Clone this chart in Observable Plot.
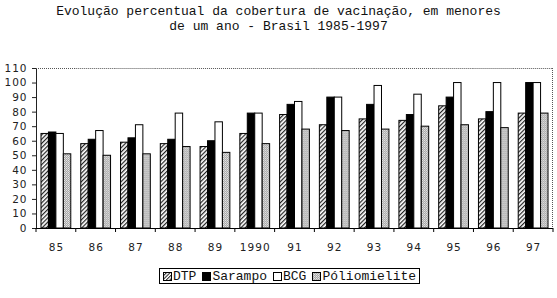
<!DOCTYPE html>
<html>
<head>
<meta charset="utf-8">
<script src="https://cdn.jsdelivr.net/npm/d3@7"></script>
<script src="https://cdn.jsdelivr.net/npm/@observablehq/plot@0.6"></script>
<style>
  body { margin: 0; background: #fff; width: 557px; }
  .mono { font-family: "Liberation Mono", "Courier New", Courier, "DejaVu Sans Mono", "Noto Sans Mono", monospace; }
  #title { font-size: 13px; line-height: 15px; color: #111;
           text-align: center; height: 40px; padding-top: 4px; box-sizing: border-box; white-space: pre; }
  #chart svg text { letter-spacing: 1px; }
  #legend { position: absolute; left: 159px; top: 268px; height: 16px; border: 1px solid #000; box-sizing: border-box;
            display: flex; align-items: center; padding: 0 3px; font-size: 13px; color: #111; }
  #legend .item { display: flex; align-items: center; margin-right: 6px; }
  #legend .item:last-child { margin-right: 0; }
  #legend svg { margin-right: 1px; }
</style>
</head>
<body>
<div id="title" class="mono">Evolução percentual da cobertura de vacinação, em menores
de um ano - Brasil 1985-1997</div>
<div id="chart"></div>
<div id="legend" class="mono"></div>
<script>
const years = ["85","86","87","88","89","1990","91","92","93","94","95","96","97"];
const series = ["DTP","Sarampo","BCG","Póliomielite"];
const dtp      = [65, 58, 59, 58, 56, 65, 78, 71, 75, 74, 84, 75, 79];
const sarampo  = [66, 61, 62, 61, 60, 79, 85, 90, 85, 78, 90, 80, 100];
const bcg      = [65, 67, 71, 79, 73, 79, 87, 90, 98, 92, 100, 100, 100];
const polio    = [51, 50, 51, 56, 52, 58, 68, 67, 68, 70, 71, 69, 79];
const yTicks = [0,10,20,30,40,50,60,70,80,90,100,110];

const valuesBySeries = [dtp, sarampo, bcg, polio];
const data = [];
years.forEach((yr, i) => series.forEach((s, j) => data.push({year: yr, series: s, value: valuesBySeries[j][i]})));

const fills = ["url(#p-dtp)", "#000", "#fff", "url(#p-polio)"];

const chart = Plot.plot({
  width: 557,
  height: 216,
  marginTop: 28,
  marginBottom: 28,
  marginLeft: 36,
  marginRight: 4,
  style: {fontFamily: "DejaVu Sans, sans-serif", fontSize: "10.5px", color: "#222", background: "white", overflow: "visible"},
  fx: {domain: years, padding: 0, round: false, label: null, tickSize: 0, tickPadding: 15},
  x: {domain: series, axis: null, round: false, paddingInner: 0, paddingOuter: 0.67},
  y: {domain: [0, 110], ticks: yTicks, tickSize: 4, tickPadding: 5, label: null, line: true},
  color: {domain: series, range: fills},
  marks: [
    Plot.ruleY([110], {stroke: "#555", strokeDasharray: "1,1"}),
    Plot.barY(data, {fx: "year", x: "series", y: "value", fill: "series", stroke: "#000", strokeWidth: 1}),
    Plot.ruleY([0], {stroke: "#000", strokeWidth: 1.2})
  ]
});

const svg = d3.select(chart);
const defs = svg.insert("defs", ":first-child");
const hatch = defs.append("pattern").attr("id", "p-dtp").attr("patternUnits", "userSpaceOnUse")
  .attr("width", 3).attr("height", 3).attr("patternTransform", "rotate(45)");
hatch.append("rect").attr("width", 3).attr("height", 3).attr("fill", "#fff");
hatch.append("rect").attr("width", 1.2).attr("height", 3).attr("fill", "#222");
const dots = defs.append("pattern").attr("id", "p-polio").attr("patternUnits", "userSpaceOnUse")
  .attr("width", 2).attr("height", 2);
dots.append("rect").attr("width", 2).attr("height", 2).attr("fill", "#a8a8a8");
dots.append("rect").attr("width", 1).attr("height", 1).attr("fill", "#e8e8e8");
dots.append("rect").attr("x", 1).attr("y", 1).attr("width", 1).attr("height", 1).attr("fill", "#d0d0d0");

// group boundary ticks and right edge, positioned by Plot's own scales
const fxS = chart.scale("fx");
const yS = chart.scale("y");
if (fxS && yS) {
  const y0 = yS.apply(0), y1 = yS.apply(110);
  const bounds = years.map(yr => fxS.apply(yr));
  bounds.push(fxS.apply(years[years.length - 1]) + fxS.bandwidth);
  const g = svg.append("g");
  bounds.forEach(bx => g.append("line").attr("x1", bx).attr("x2", bx).attr("y1", y0).attr("y2", y0 + 4).attr("stroke", "#000"));
  const xr = bounds[bounds.length - 1] - 0.5;
  g.append("line").attr("x1", xr).attr("x2", xr).attr("y1", y1).attr("y2", y0).attr("stroke", "#555").attr("stroke-dasharray", "1,1");
}
document.getElementById("chart").appendChild(chart);

// legend
const legend = d3.select("#legend");
series.forEach((s, j) => {
  const it = legend.append("div").attr("class", "item");
  const sw = it.append("svg").attr("width", 9).attr("height", 9);
  const sd = sw.append("defs");
  if (j === 0) {
    const p = sd.append("pattern").attr("id", "l-dtp").attr("patternUnits", "userSpaceOnUse").attr("width", 2.5).attr("height", 2.5).attr("patternTransform", "rotate(45)");
    p.append("rect").attr("width", 2.5).attr("height", 2.5).attr("fill", "#fff");
    p.append("rect").attr("width", 1).attr("height", 2.5).attr("fill", "#222");
  }
  const f = j === 0 ? "url(#l-dtp)" : j === 3 ? "url(#p-polio)" : fills[j];
  sw.append("rect").attr("x", 0.5).attr("y", 0.5).attr("width", 8).attr("height", 8).attr("fill", f).attr("stroke", "#000");
  it.append("span").text(s);
});
</script>
</body>
</html>
